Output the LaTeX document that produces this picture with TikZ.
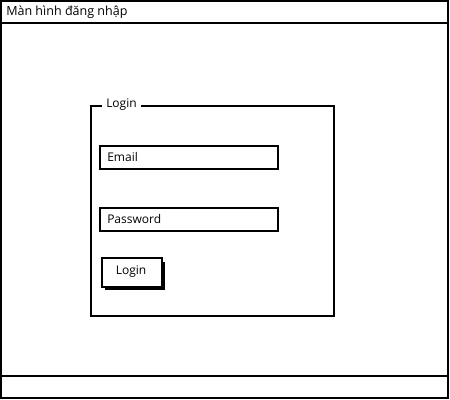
\documentclass[tikz,border=0pt]{standalone}
\usepackage{fontspec}
\setmainfont{Open Sans}
\begin{document}
\begin{tikzpicture}[x=0.75pt,y=-0.75pt,
  frame/.style={draw=black,line width=1.6pt},
  lbl/.style={font=\fontsize{9}{10}\selectfont,inner sep=0pt,anchor=west},
]
\useasboundingbox (0,0) rectangle (450,400);
% outer window
\draw[frame] (1,1) rectangle (448,398);
\draw[frame] (1,23) -- (448,23);
\draw[frame] (1,376) -- (448,376);
\node[lbl,font=\fontsize{9.4}{10}\selectfont] (title) at (6,12) {Màn hình đăng nhập};
% group box
\draw[frame] (91,106) rectangle (334,316);
\node[lbl,fill=white,inner xsep=3pt,inner ysep=1pt] (grp) at (102,105) {Login};
% email field
\draw[frame,fill=white] (100,146) rectangle (278,169);
\node[lbl] (email) at (107,157) {Email};
% password field
\draw[frame,fill=white] (100,208) rectangle (278,231);
\node[lbl] (pwd) at (107,219) {Password};
% login button with shadow
\fill[black] (105,262) rectangle (165,290);
\draw[frame,fill=white] (102,258) rectangle (162,287);
\node[lbl,anchor=center] (btn) at (131,272) {Login};
\end{tikzpicture}
\end{document}
